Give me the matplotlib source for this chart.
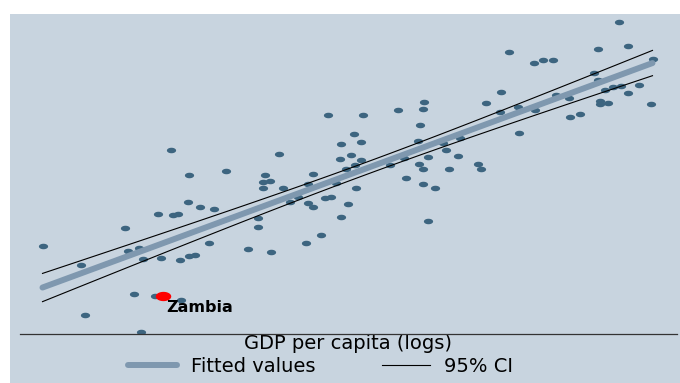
import numpy as np
import matplotlib
matplotlib.use("Agg")
import matplotlib.pyplot as plt
from matplotlib.patches import Rectangle

# log GDP per capita and outcome for each country
gdp_logs = [
    6.14, 6.45, 6.48, 6.80, 6.82, 6.91, 6.87, 6.93, 6.94, 7.04,
    7.06, 7.09, 7.17, 7.18, 7.22, 7.24, 7.25, 7.30, 7.31, 7.31,
    7.36, 7.40, 7.47, 7.51, 7.61, 7.78, 7.86, 7.86, 7.90, 7.90,
    7.92, 7.96, 7.97, 8.03, 8.06, 8.12, 8.18, 8.26, 8.25, 8.26,
    8.30, 8.30, 8.37, 8.40, 8.42, 8.45, 8.49, 8.52, 8.53, 8.53,
    8.57, 8.58, 8.61, 8.63, 8.64, 8.65, 8.69, 8.69, 8.70, 8.92,
    8.98, 9.03, 9.05, 9.14, 9.15, 9.16, 9.18, 9.18, 9.18, 9.19,
    9.22, 9.22, 9.28, 9.34, 9.37, 9.39, 9.46, 9.48, 9.62, 9.65,
    9.69, 9.80, 9.81, 9.87, 9.94, 9.95, 10.07, 10.08, 10.14, 10.22,
    10.25, 10.35, 10.36, 10.44, 10.55, 10.58, 10.58, 10.60, 10.60, 10.64,
    10.66, 10.70, 10.75, 10.77, 10.82, 10.82, 10.91, 11.01, 11.02,
]
outcome = [
    1.88, 1.50, 0.50, 2.24, 1.78, 1.84, 0.92, 0.16, 1.62, 0.88,
    2.52, 1.64, 3.80, 2.50, 2.52, 1.60, 0.80, 2.76, 3.30, 1.68,
    1.70, 2.66, 1.94, 2.62, 3.38, 1.82, 2.44, 2.26, 3.16, 3.04,
    3.30, 3.18, 1.76, 3.72, 3.04, 2.76, 2.86, 3.12, 1.94, 2.74,
    3.32, 2.66, 2.10, 2.84, 4.50, 2.86, 3.14, 3.62, 3.92, 2.46,
    3.42, 2.72, 3.70, 4.12, 3.50, 3.04, 3.96, 3.60, 4.50, 3.50,
    4.60, 3.64, 3.24, 3.98, 3.52, 4.30, 4.62, 3.42, 3.12, 4.76,
    3.66, 2.38, 3.04, 3.94, 3.80, 3.42, 3.68, 4.04, 3.52, 3.42,
    4.74, 4.56, 4.96, 5.76, 4.66, 4.14, 5.54, 4.60, 5.60, 5.60,
    4.90, 4.84, 4.46, 4.52, 5.34, 5.82, 5.20, 4.78, 4.72, 5.00,
    4.74, 5.06, 6.36, 5.08, 5.88, 4.94, 5.10, 4.72, 5.62,
]
zambia_gdp = 7.10
zambia_outcome = 0.88

BG = "#c8d4df"
DOT = "#3d6580"
FIT = "#7f98af"

x = np.array(gdp_logs + [zambia_gdp])
y = np.array(outcome + [zambia_outcome])

# linear fit with 95% CI of the mean prediction
n = len(x)
slope, intercept = np.polyfit(x, y, 1)
resid = y - (intercept + slope * x)
s = np.sqrt(np.sum(resid ** 2) / (n - 2))
sxx = np.sum((x - x.mean()) ** 2)
grid = np.linspace(x.min(), x.max(), 100)
fit = intercept + slope * grid
se = s * np.sqrt(1 / n + (grid - x.mean()) ** 2 / sxx)
t975 = 1.98
lo, hi = fit - t975 * se, fit + t975 * se

# flattened dot marker
t = np.linspace(0, 2 * np.pi, 40)
dot = np.column_stack([np.cos(t), 0.6 * np.sin(t)])

fig = plt.figure(figsize=(6.8, 3.83), dpi=100)
fig.patch.set_facecolor("white")
fig.patches.append(Rectangle((10 / 680, 0), 670 / 680, 369 / 383,
                             transform=fig.transFigure, facecolor=BG,
                             edgecolor="none", zorder=-5))

ax = fig.add_axes([20 / 680, 49 / 383, 657 / 680, 320 / 383])
ax.set_zorder(2)
ax.set_facecolor("none")
ax.set_xlim(5.96, 11.216)
ax.set_ylim(0.12, 6.52)

ax.scatter(gdp_logs, outcome, s=44, marker=dot, color=DOT, linewidths=0, zorder=2)
ax.plot(grid, fit, color=FIT, lw=4.3, solid_capstyle="round", zorder=3,
        label="Fitted values")
ax.plot(grid, hi, color="black", lw=0.8, zorder=4, label="95% CI")
ax.plot(grid, lo, color="black", lw=0.8, zorder=4)
ax.scatter([zambia_gdp], [zambia_outcome], s=125, marker=dot, color="red",
           linewidths=0, zorder=5)
ax.annotate("Zambia", (zambia_gdp, zambia_outcome), xytext=(4, -12),
            textcoords="offset pixels", ha="left", va="center",
            fontsize=11.5, fontweight="bold", color="black", zorder=6)

for side in ["top", "left", "right"]:
    ax.spines[side].set_visible(False)
ax.spines["bottom"].set_color("#333333")
ax.spines["bottom"].set_linewidth(0.9)
ax.set_xticks([])
ax.set_yticks([])
ax.set_xlabel("GDP per capita (logs)", fontsize=14, labelpad=0)

ax.legend(loc="center", bbox_to_anchor=(0.458, -0.1), ncol=2,
          frameon=False, fontsize=14, handlelength=2.5, handletextpad=0.72,
          columnspacing=3.4, borderaxespad=0, borderpad=0)

fig.savefig("out.png", dpi=100)
